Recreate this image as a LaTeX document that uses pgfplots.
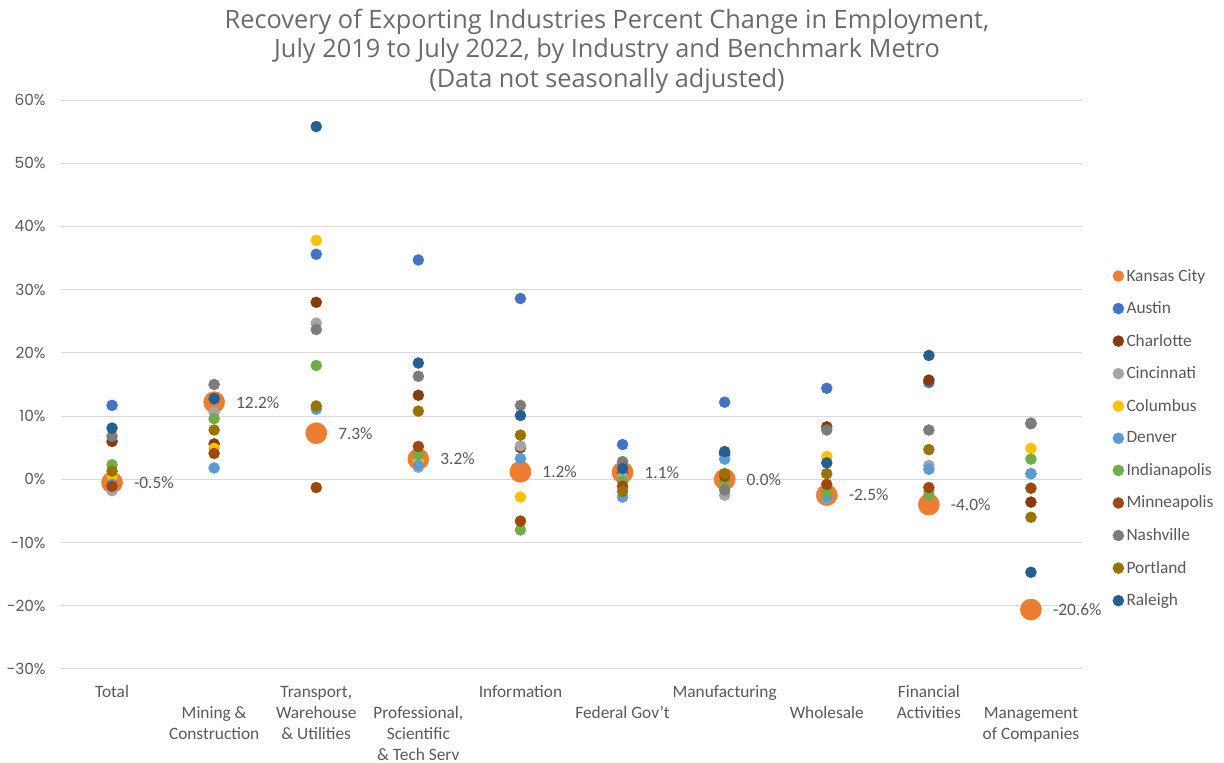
\documentclass[border=0pt]{standalone}
\usepackage{pgfplots}
\pgfplotsset{compat=1.18}
\usepackage{pgfplotstable}
\usepackage{fontspec}
\setmainfont{Carlito}
\newfontfamily\tickfont{Poppins}
\newfontfamily\titlefont{Open Sans}
\definecolor{txtgray}{HTML}{595959}
\definecolor{titlegray}{HTML}{6A6A6A}
\definecolor{gridgray}{HTML}{D9D9D9}
\definecolor{cKC}{HTML}{ED7D31}
\definecolor{cAu}{HTML}{4472C4}
\definecolor{cCh}{HTML}{843C0C}
\definecolor{cCi}{HTML}{A5A5A5}
\definecolor{cCo}{HTML}{FFC000}
\definecolor{cDe}{HTML}{5B9BD5}
\definecolor{cIn}{HTML}{70AD47}
\definecolor{cMi}{HTML}{9E480E}
\definecolor{cNa}{HTML}{7C7C7C}
\definecolor{cPo}{HTML}{997300}
\definecolor{cRa}{HTML}{255E91}

\pgfplotstableread{
x KC Au Ch Ci Co De In Mi Na Po Ra
0 -0.5 11.7 6.0 -1.8 0.5 -0.8 2.3 -1.1 6.8 1.3 8.1
1 12.2 12.7 5.6 10.6 4.9 1.8 9.6 4.1 15.0 7.8 12.8
2 7.3 35.6 28.0 24.7 37.8 11.1 18.0 -1.3 23.7 11.6 55.8
3 3.2 34.7 13.3 1.9 2.8 2.2 3.9 5.2 16.3 10.8 18.4
4 1.2 28.6 5.0 5.3 -2.8 3.3 -8.0 -6.6 11.7 7.0 10.1
5 1.1 5.5 0.9 0.5 -1.5 -2.8 -0.3 -1.1 2.8 -1.9 1.7
6 0.0 12.2 4.0 -2.5 0.3 3.2 -0.1 0.5 -1.7 0.9 4.4
7 -2.5 14.4 8.3 -3.0 3.6 -2.8 -2.0 -0.8 7.8 0.9 2.6
8 -4.0 15.3 15.7 2.2 -1.9 1.6 -2.5 -1.3 7.8 4.7 19.6
9 -20.6 8.8 -3.6 0.9 4.9 0.9 3.2 -1.4 8.9 -6.0 -14.7
}\data

\begin{document}
\begin{tikzpicture}
\path[use as bounding box] (-45.75pt,-70.5pt) rectangle (872.25pt,501.75pt);
\begin{axis}[
  at={(0pt,0pt)}, anchor=south west,
  scale only axis, width=765.75pt, height=426.75pt,
  xmin=-0.5, xmax=9.5, ymin=-30, ymax=60,
  ytick={-30,-20,...,60},
  yticklabel={\pgfmathprintnumber{\tick}\%},
  yticklabel style={font=\tickfont\fontsize{11.5}{13}\selectfont, text=txtgray, /pgf/number format/assume math mode=true, xshift=-8pt},
  ymajorgrids, grid style={gridgray, line width=0.75pt},
  axis line style={draw=none}, tick style={draw=none},
  xtick={0,...,9},
  xticklabels={{\strut Total},{\strut\\Mining \&\\Construction},{\strut Transport,\\Warehouse\\\& Utilities},{\strut\\Professional,\\Scientific\\\& Tech Serv},{\strut Information},{\strut\\Federal Gov't},{\strut Manufacturing},{\strut\\Wholesale},{\strut Financial\\Activities},{\strut\\Management\\of Companies}},
  xticklabel style={font=\fontsize{13}{15.75}\selectfont, text=txtgray, align=center, anchor=north, inner sep=0pt, yshift=-10.25pt},
  legend style={at={(1.030,0.708)}, anchor=north west, draw=none, fill=none, font=\fontsize{13}{15.75}\selectfont, text=txtgray, row sep=9.9pt, inner sep=0pt},
  legend cell align=left,
  legend image code/.code={\draw[mark repeat=2,mark phase=2,#1] plot coordinates {(0cm,0cm) (0.12cm,0cm) (0.24cm,0cm)};},
]
\addplot[only marks, mark=*, mark size=7.9pt, color=cKC, legend image post style={mark size=4.1pt},
  point meta=y,
  nodes near coords={\pgfmathprintnumber[fixed,fixed zerofill,precision=1,assume math mode=true]{\pgfplotspointmeta}\%},
  every node near coord/.append style={anchor=west, xshift=13pt, text=txtgray, font=\fontsize{13}{15.75}\selectfont}]
  table[x=x,y=KC]{\data};
\addlegendentry{Kansas City}
\addplot[only marks, mark=*, mark size=4.1pt, color=cAu] table[x=x,y=Au]{\data};
\addlegendentry{Austin}
\addplot[only marks, mark=*, mark size=4.1pt, color=cCh] table[x=x,y=Ch]{\data};
\addlegendentry{Charlotte}
\addplot[only marks, mark=*, mark size=4.1pt, color=cCi] table[x=x,y=Ci]{\data};
\addlegendentry{Cincinnati}
\addplot[only marks, mark=*, mark size=4.1pt, color=cCo] table[x=x,y=Co]{\data};
\addlegendentry{Columbus}
\addplot[only marks, mark=*, mark size=4.1pt, color=cDe] table[x=x,y=De]{\data};
\addlegendentry{Denver}
\addplot[only marks, mark=*, mark size=4.1pt, color=cIn] table[x=x,y=In]{\data};
\addlegendentry{Indianapolis}
\addplot[only marks, mark=*, mark size=4.1pt, color=cMi] table[x=x,y=Mi]{\data};
\addlegendentry{Minneapolis}
\addplot[only marks, mark=*, mark size=4.1pt, color=cNa] table[x=x,y=Na]{\data};
\addlegendentry{Nashville}
\addplot[only marks, mark=*, mark size=4.1pt, color=cPo] table[x=x,y=Po]{\data};
\addlegendentry{Portland}
\addplot[only marks, mark=*, mark size=4.1pt, color=cRa] table[x=x,y=Ra]{\data};
\addlegendentry{Raleigh}
\end{axis}
\node[align=center, text=titlegray, font=\titlefont\fontsize{19}{22.2}\selectfont] at (409.5pt,463.5pt)
  {Recovery of Exporting Industries Percent Change in Employment,\\July 2019 to July 2022, by Industry and Benchmark Metro\\(Data not seasonally adjusted)};
\end{tikzpicture}
\end{document}
